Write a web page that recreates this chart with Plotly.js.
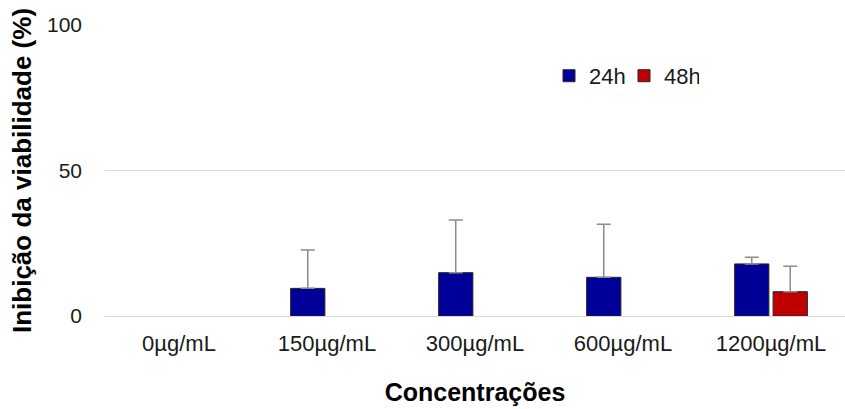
<!DOCTYPE html>
<html>
<head>
<meta charset="utf-8">
<script src="https://cdn.plot.ly/plotly-3.0.1.min.js"></script>
<style>html,body{margin:0;padding:0;background:#fff;}#chart{width:845px;height:409px;}</style>
</head>
<body>
<div id="chart"></div>
<script>
var categories = ["0µg/mL", "150µg/mL", "300µg/mL", "600µg/mL", "1200µg/mL"];
var values24h = [null, 9.5, 14.9, 13.3, 17.9];
var errors24h = [null, 13.2, 18.1, 18.2, 2.3];
var values48h = [null, null, null, null, 8.35];
var errors48h = [null, null, null, null, 8.75];
var seriesNames = ["24h", "48h"];
var zeros = [0, 0, 0, 0, 0];

var sans = "Liberation Sans, Arial, sans-serif";
var errStyle = {type: "data", symmetric: false, color: "#8c8c8c", thickness: 1.5, width: 7};

var traces = [
  {
    type: "bar", name: seriesNames[0], x: categories, y: values24h,
    marker: {color: "#000099", line: {color: "#262626", width: 1}},
    error_y: Object.assign({array: errors24h, arrayminus: zeros}, errStyle)
  },
  {
    type: "bar", name: seriesNames[1], x: categories, y: values48h,
    marker: {color: "#c00000", line: {color: "#262626", width: 1}},
    error_y: Object.assign({array: errors48h, arrayminus: zeros}, errStyle)
  }
];

var layout = {
  width: 845, height: 409,
  margin: {l: 105, r: 0, t: 25, b: 93},
  paper_bgcolor: "#fff", plot_bgcolor: "#fff",
  barmode: "group", bargap: 0.48, bargroupgap: 0.11,
  showlegend: true,
  legend: {
    orientation: "h", x: 0.6, xanchor: "left", y: 0.825, yanchor: "middle",
    font: {family: sans, size: 22, color: "#1a1a1a"},
    bgcolor: "rgba(0,0,0,0)", itemwidth: 30, entrywidth: 30, traceorder: "normal"
  },
  xaxis: {
    type: "category", range: [-0.5, 4.5], showgrid: false, zeroline: false, showline: false,
    ticks: "", tickangle: 0, ticklabelstandoff: 12,
    tickfont: {family: sans, size: 22, color: "#1a1a1a"},
    title: {text: "Concentrações", font: {family: sans, size: 25, color: "#000", weight: "bold"}, standoff: 28},
    automargin: false
  },
  yaxis: {
    range: [0, 100], tickvals: [0, 50, 100], ticktext: ["0", "50", "100"],
    showgrid: true, gridcolor: "#d9d9d9", gridwidth: 1,
    zeroline: true, zerolinecolor: "#d9d9d9", zerolinewidth: 1, showline: false,
    ticks: "", ticklabelstandoff: 22,
    tickfont: {family: sans, size: 21, color: "#1a1a1a"},
    title: {text: "Inibição da viabilidade (%)", font: {family: sans, size: 26, color: "#000", weight: "bold"}, standoff: 7},
    automargin: false
  }
};

Plotly.newPlot("chart", traces, layout, {displayModeBar: false, staticPlot: true});
</script>
</body>
</html>
